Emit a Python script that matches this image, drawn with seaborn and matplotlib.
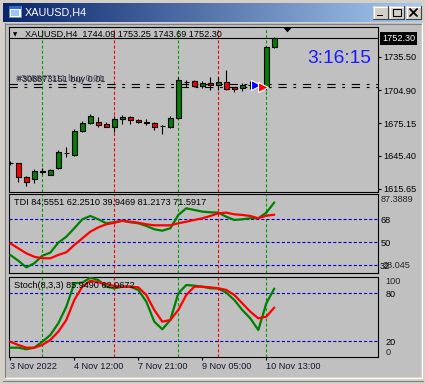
import numpy as np
import pandas as pd
import matplotlib
matplotlib.use("Agg")
import matplotlib.pyplot as plt
import seaborn as sns
from matplotlib.patches import Rectangle, Polygon
from matplotlib.lines import Line2D

# ---------------- data ----------------
symbol = "XAUUSD,H4"
opens = [1639.0, 1638.5, 1626.3, 1624.3, 1631.0, 1628.4, 1634.2, 1647.6, 1646.0, 1667.9,
         1675.5, 1676.3, 1673.9, 1671.8, 1678.7, 1680.8, 1678.2, 1675.8, 1674.8, 1672.5,
         1671.5, 1679.6, 1712.5, 1713.6, 1708.5, 1711.2, 1709.4, 1712.4, 1707.6, 1707.0,
         1710.0, 1708.2, 1708.2, 1744.09]
highs = [1640.5, 1638.8, 1627.3, 1633.3, 1634.0, 1633.2, 1650.5, 1653.8, 1669.4, 1676.9,
         1683.6, 1680.5, 1676.3, 1681.4, 1682.9, 1681.4, 1678.7, 1678.4, 1676.0, 1673.3,
         1682.0, 1716.9, 1714.5, 1714.5, 1713.0, 1716.9, 1716.9, 1723.5, 1707.8, 1711.2,
         1713.0, 1710.0, 1745.2, 1753.25]
lows = [1637.0, 1621.3, 1618.0, 1620.4, 1628.8, 1628.0, 1633.3, 1643.9, 1644.8, 1667.0,
        1674.6, 1671.8, 1671.2, 1667.3, 1674.5, 1674.5, 1674.8, 1673.3, 1668.5, 1664.9,
        1670.3, 1679.1, 1708.0, 1707.5, 1707.0, 1704.8, 1704.8, 1704.8, 1703.4, 1704.0,
        1706.0, 1704.5, 1705.4, 1743.69]
closes = [1638.8, 1625.9, 1621.2, 1631.3, 1631.4, 1632.9, 1648.4, 1648.0, 1668.2, 1675.5,
          1682.0, 1673.6, 1671.8, 1679.0, 1681.1, 1677.8, 1676.3, 1675.0, 1671.8, 1672.3,
          1680.0, 1714.5, 1712.3, 1708.5, 1711.5, 1709.4, 1712.4, 1705.7, 1706.4, 1710.0,
          1710.2, 1708.0, 1744.0, 1752.30]

tdi_green = [40.1, 35.6, 30.4, 33.6, 39.5, 41.9, 49.7, 54.4, 61.0, 68.0,
             70.6, 68.0, 64.9, 65.7, 66.9, 65.7, 64.9, 62.8, 60.2, 59.1,
             61.0, 71.4, 76.6, 75.3, 74.0, 73.5, 73.2, 70.0, 67.5, 68.0,
             68.8, 68.8, 73.2, 81.2173]
tdi_red = [49.2, 45.3, 41.4, 38.7, 37.5, 37.5, 40.1, 42.2, 47.9, 53.1,
           58.3, 61.7, 64.1, 65.3, 66.9, 66.1, 65.3, 64.1, 63.3, 63.3,
           63.3, 64.9, 66.1, 67.5, 68.8, 70.6, 72.7, 73.2, 71.9, 71.4,
           70.6, 68.8, 70.8, 71.5917]
stoch_main = [11.6, 11.6, 9.6, 11.6, 19.1, 27.5, 42.3, 63.1, 92.6, 93.4,
              99.6, 96.7, 88.3, 86.3, 88.3, 88.3, 84.2, 69.5, 44.3, 34.7,
              46.4, 80.0, 90.4, 89.6, 88.3, 86.3, 86.0, 80.8, 71.6, 59.0,
              48.5, 33.8, 67.4, 85.949]
stoch_signal = [19.1, 15.0, 11.6, 11.6, 15.0, 21.3, 31.7, 46.4, 71.6, 88.3,
                95.8, 93.8, 91.7, 89.2, 88.3, 88.3, 87.5, 77.9, 59.0, 44.3,
                46.4, 59.0, 77.9, 88.3, 88.3, 87.5, 86.3, 84.2, 77.9, 67.4,
                56.9, 48.5, 50.6, 62.0672]

time_labels = ["3 Nov 2022", "4 Nov 12:00", "7 Nov 21:00", "9 Nov 05:00", "10 Nov 13:00"]
time_label_bars = [0, 8, 16, 24, 32]
price_ticks = [1735.50, 1704.90, 1675.15, 1645.40, 1615.65]
last_price = 1752.30
tdi_levels = [68, 50, 32]
tdi_max, tdi_min = 87.3889, 28.045
stoch_levels = [80, 20]
stoch_bounds = [100, 0]
green_vlines = [4, 21, 32]
red_vlines = [13, 26]
order_prices = [1710.6, 1708.2]
order_labels = ["#308877111 buy 0.01", "#308873151 buy 0.01"]
open_arrow = (30.7, 1710.0)
close_arrow = (31.6, 1707.7)
tdi_header = "TDI 84.5551 62.2510 39.9469 81.2173 71.5917"
stoch_header = "Stoch(8,3,3) 85.9490 62.0672"
clock_text = "3:16:15"

# ---------------- style ----------------
sns.set_style("white")
plt.rcParams["font.family"] = ["Liberation Sans", "DejaVu Sans"]
plt.rcParams["lines.scale_dashes"] = False
plt.rcParams["axes.linewidth"] = 0.8

W, H = 425, 384
fig = plt.figure(figsize=(W / 100, H / 100), dpi=100)
fig.patch.set_facecolor("#d4d0c8")

def frac_rect(l, t, r, b):
    return [l / W, 1 - b / H, (r - l) / W, (b - t) / H]

def add_ax(l, t, r, b):
    return fig.add_axes(frac_rect(l, t, r, b))

def R(l, t, r, b, z=-1, **kw):
    fig.add_artist(Rectangle((l / W, 1 - b / H), (r - l) / W, (b - t) / H,
                             transform=fig.transFigure, zorder=z, **kw))

def L(x0, y0, x1, y1, z=-1, **kw):
    fig.add_artist(Line2D([x0 / W, x1 / W], [1 - y0 / H, 1 - y1 / H],
                          transform=fig.transFigure, zorder=z, **kw))

def T(x, y, s, **kw):
    fig.text(x / W, 1 - y / H, s, **kw)

# window frame & client area
R(5, 23, 421, 377, facecolor="#c0c0c0", edgecolor="none", z=-2)
L(4.5, 23, 4.5, 378, color="#808080", lw=0.8)
L(4.5, 23.5, 421, 23.5, color="#808080", lw=0.8)
L(421.5, 23, 421.5, 378, color="white", lw=0.8)
L(4.5, 377.5, 421.5, 377.5, color="white", lw=0.8)
L(2.5, 380.5, 423, 380.5, color="#808080", lw=0.8)

# title bar with gradient
ax_title = add_ax(3, 3, 422, 21.7)
grad = np.linspace(0, 1, 256)
c0 = np.array([10, 36, 106]) / 255
c1 = np.array([166, 202, 240]) / 255
img = (c0[None, :] * (1 - grad[:, None]) + c1[None, :] * grad[:, None])[None, :, :]
ax_title.imshow(img, aspect="auto", extent=[0, 1, 0, 1])
ax_title.set_axis_off()
T(25, 12.5, symbol, color="white", fontsize=7.8, va="center", ha="left")
# icon
R(9, 6, 21, 17, facecolor="white", edgecolor="#6a8fd0", lw=0.7, z=2)
R(9, 6, 21, 8.5, facecolor="#2a6ad8", edgecolor="none", z=2)
R(11, 10, 19, 15.5, facecolor="#9ec4f0", edgecolor="none", z=2)
# buttons
for (bl, br) in [(373, 388), (389, 404), (406, 421)]:
    R(bl, 6, br, 19, facecolor="#d4d0c8", edgecolor="none", z=2)
    L(bl, 6.5, br, 6.5, color="white", lw=0.8, z=3)
    L(bl + 0.5, 6, bl + 0.5, 19, color="white", lw=0.8, z=3)
    L(bl, 18.5, br, 18.5, color="#404040", lw=0.8, z=3)
    L(br - 0.5, 6, br - 0.5, 19, color="#404040", lw=0.8, z=3)
R(377, 14.5, 383, 16.3, facecolor="black", edgecolor="none", z=4)
R(393, 8.5, 401, 16, facecolor="none", edgecolor="black", lw=0.8, z=4)
R(393, 8.5, 401, 10, facecolor="black", edgecolor="none", z=4)
L(410, 9, 417, 16, color="black", lw=1.3, z=4)
L(410, 16, 417, 9, color="black", lw=1.3, z=4)

# ---------------- panels ----------------
ax_main = add_ax(9.3, 27.3, 377.7, 191.5)
ax_tdi = add_ax(9.3, 193.5, 377.7, 273.3)
ax_st = add_ax(9.3, 276.5, 377.7, 357.3)
XL = (-0.125, 45.925)
for ax in (ax_main, ax_tdi, ax_st):
    ax.set_facecolor("#c0c0c0")
    ax.set_xlim(*XL)
    for s in ax.spines.values():
        s.set_color("black")
        s.set_linewidth(0.8)
    ax.yaxis.tick_right()
    ax.grid(False)

ax_main.set_ylim(1612.95, 1762.2)
ax_tdi.set_ylim(25.75, 88.19)
ax_st.set_ylim(-0.5, 101.13)

vdash = (0, (2.2, 1.5))
for ax in (ax_main, ax_tdi, ax_st):
    for k in green_vlines:
        ax.axvline(k, color="#00a000", lw=0.8, ls=vdash, zorder=1)
    for k in red_vlines:
        ax.axvline(k, color="#ff0000", lw=0.8, ls=vdash, zorder=1)

# candles
idx = np.arange(len(opens))
o = np.array(opens); c = np.array(closes)
hi = np.array(highs); lo = np.array(lows)
ax_main.vlines(idx, lo, hi, colors="black", lw=0.8, zorder=3)
body_col = np.where(c > o + 0.6, "#008000", np.where(c < o - 0.6, "#ff0000", "black"))
ax_main.bar(idx, c - o, bottom=o, width=0.58, color=body_col, edgecolor="black",
            linewidth=0.8, zorder=4)

# price lines
ax_main.axhline(last_price, color="black", lw=0.8, zorder=2)
for p in order_prices:
    ax_main.axhline(p, color="black", lw=0.8, ls=(0, (6, 4.8, 2, 4.8)), zorder=2)
T(16.5, 78.3, order_labels[0], color="#505070", fontsize=6.6, va="center")
T(17.3, 79.8, order_labels[1], color="#18181f", fontsize=6.6, va="center")
ax_main.plot(*open_arrow, marker=">", ms=6.5, color="#0000ff", mec="white", mew=0.8, zorder=6)
ax_main.plot(*close_arrow, marker=">", ms=6.5, color="#ff0000", mec="white", mew=0.8, zorder=6)

ax_main.set_yticks(price_ticks)
ax_main.set_yticklabels([f"{v:.2f}" for v in price_ticks])
ax_main.tick_params(axis="y", length=2.2, width=0.8, pad=2.2, labelsize=6.6, colors="black")
ax_main.set_xticks([])
ax_main.text(1 + 4.5 / 368.4, last_price, f"{last_price:.2f}", transform=ax_main.get_yaxis_transform(),
             color="white", fontsize=6.6, va="center", ha="left",
             bbox=dict(facecolor="black", edgecolor="none", pad=1.5))

T(25, 34.7, f"{symbol}  {opens[-1]:.2f} {highs[-1]:.2f} {lows[-1]:.2f} {closes[-1]:.2f}",
  fontsize=6.6, va="center", ha="left", color="black")
T(12.5, 34.5, "▼", fontsize=4, va="center", ha="left", color="black", family="DejaVu Sans")
fig.add_artist(Polygon([(283 / W, 1 - 27.3 / H), (292 / W, 1 - 27.3 / H), (287.5 / W, 1 - 32.3 / H)],
                       closed=True, transform=fig.transFigure, facecolor="black", edgecolor="none",
                       zorder=5))
T(307, 58.5, clock_text, color="#1a1aff", fontsize=13.8, va="center", ha="left")

# TDI panel
df_tdi = pd.DataFrame({"bar": idx, "green": tdi_green, "red": tdi_red})
for lv in tdi_levels:
    ax_tdi.axhline(lv, color="#0000c8", lw=0.8, ls=(0, (2.2, 1.5)), zorder=1)
sns.lineplot(data=df_tdi, x="bar", y="green", ax=ax_tdi, color="#008000", lw=1.6, zorder=3)
sns.lineplot(data=df_tdi, x="bar", y="red", ax=ax_tdi, color="#ff0000", lw=1.6, zorder=4)
ax_tdi.set_xlim(*XL); ax_tdi.set_ylim(25.75, 88.19)
ax_tdi.set_xlabel(""); ax_tdi.set_ylabel("")
ax_tdi.set_xticks([])
ax_tdi.set_yticks(tdi_levels)
ax_tdi.set_yticklabels([str(v) for v in tdi_levels])
ax_tdi.tick_params(axis="y", length=0, pad=1.8, labelsize=6.6, colors="black")
tr = ax_tdi.get_yaxis_transform()
ax_tdi.text(1 + 3.3 / 368.4, tdi_max, f"{tdi_max:.4f}", transform=tr, fontsize=6.6, va="top", ha="left")
ax_tdi.text(1 + 5.0 / 368.4, tdi_min, f"{tdi_min:.3f}", transform=tr, fontsize=6.6, va="bottom", ha="left")
T(14, 202.7, tdi_header, fontsize=6.6, va="center", ha="left", color="black")

# Stoch panel
df_st = pd.DataFrame({"bar": idx, "main": stoch_main, "signal": stoch_signal})
for lv in stoch_levels:
    ax_st.axhline(lv, color="#0000c8", lw=0.8, ls=(0, (2.2, 1.5)), zorder=1)
sns.lineplot(data=df_st, x="bar", y="main", ax=ax_st, color="#008000", lw=1.6, zorder=3)
sns.lineplot(data=df_st, x="bar", y="signal", ax=ax_st, color="#ff0000", lw=1.6, zorder=4)
ax_st.set_xlim(*XL); ax_st.set_ylim(-0.5, 101.13)
ax_st.set_xlabel(""); ax_st.set_ylabel("")
ax_st.set_yticks(stoch_levels)
ax_st.set_yticklabels([str(v) for v in stoch_levels])
ax_st.tick_params(axis="y", length=0, pad=5.5, labelsize=6.6, colors="black")
tr = ax_st.get_yaxis_transform()
ax_st.text(1 + 7.5 / 368.4, stoch_bounds[0], str(stoch_bounds[0]), transform=tr, fontsize=6.6, va="top", ha="left")
ax_st.text(1 + 7.5 / 368.4, stoch_bounds[1], str(stoch_bounds[1]), transform=tr, fontsize=6.6, va="bottom", ha="left")
ax_st.set_xticks(time_label_bars)
ax_st.set_xticklabels(time_labels, ha="left")
ax_st.tick_params(axis="x", length=2.2, width=0.8, pad=1.2, labelsize=6.6, colors="black",
                  labelcolor="#141432", direction="out", bottom=True)
T(14, 285, stoch_header, fontsize=6.6, va="center", ha="left", color="black")

fig.savefig("out.png", dpi=100, facecolor=fig.get_facecolor())
